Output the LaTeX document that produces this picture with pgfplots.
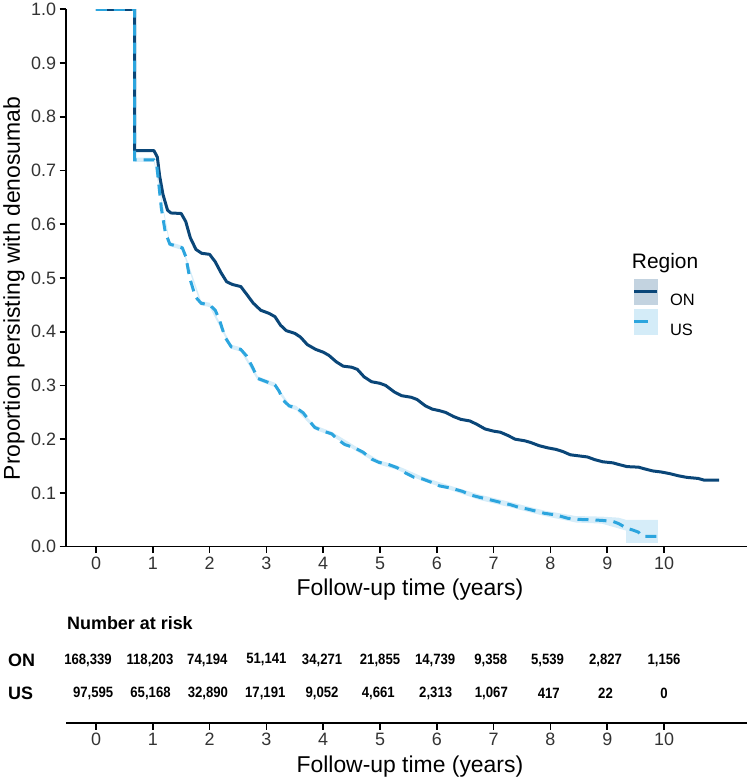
\documentclass[border=0pt]{standalone}
\usepackage{fontspec}
\setmainfont{Liberation Sans}
\newfontface\narrowbold[FakeStretch=0.88]{Liberation Sans Bold}
\usepackage{pgfplots}
\usepackage{pgfplotstable}
\pgfplotsset{compat=1.18}

\definecolor{oncol}{RGB}{10,70,120}
\definecolor{uscol}{RGB}{44,165,222}
\definecolor{usband}{RGB}{214,237,249}
\definecolor{onbox}{RGB}{195,211,224}
\definecolor{usbox}{RGB}{212,236,248}

\pgfplotstableread{
x y lab
-0.14 63.3 168,339
0.95 63.3 118,203
1.96 63.3 74,194
3 63.3 51,141
3.98 63.3 34,271
5 63.3 21,855
5.97 63.3 14,739
6.95 63.3 9,358
7.95 63.3 5,539
8.97 63.3 2,827
10 63.3 1,156
-0.05 29.7 97,595
0.96 29.7 65,168
1.97 29.7 32,890
2.98 29.7 17,191
3.98 29.7 9,052
4.97 29.7 4,661
5.98 29.7 2,313
6.96 29.7 1,067
7.97 29.7 417
8.97 29.7 22
10 29.7 0
}\risktable

\pgfplotsset{
  kmstyle/.style={
    scale only axis,
    width=681bp,
    xmin=-0.528, xmax=11.46,
    xtick={0,1,2,3,4,5,6,7,8,9,10},
    tick align=outside,
    major tick length=6.5bp,
    tick style={line width=1.6bp, black},
    axis line style={line width=1.6bp, black},
    tick label style={font=\fontsize{18}{20}\selectfont, text=black!80},
    /pgf/number format/assume math mode=true,
    label style={font=\fontsize{23}{26}\selectfont, text=black},
  }
}

\begin{document}
\begin{tikzpicture}
\useasboundingbox (0,0) rectangle (748bp,782bp);

\begin{axis}[
  kmstyle,
  at={(66bp,235.3bp)}, anchor=south west,
  height=537.4bp,
  ymin=0, ymax=1,
  axis lines*=left,
  ytick={0,0.1,0.2,0.3,0.4,0.5,0.6,0.7,0.8,0.9,1.0},
  yticklabel style={/pgf/number format/.cd, fixed, fixed zerofill, precision=1},
  xlabel={Follow-up time (years)},
  ylabel={Proportion persisting with denosumab},
  xlabel style={at={(axis description cs:0.505,-0.0806)}, anchor=center},
  ylabel style={at={(axis description cs:-0.0764,0.4805)}, anchor=center},
  legend style={draw=none, fill=none, at={(axis description cs:0.8325,0.4975)},
    anchor=north west, inner sep=0pt, outer sep=0pt, row sep=2.3bp,
    column sep=12bp,
    font=\fontsize{16.5}{18}\selectfont,
    nodes={inner sep=0pt}},
  legend cell align=left,
]
% US confidence band
\addplot[fill=usband, draw=none, forget plot] coordinates {
(0.68,0.724)(1.02,0.724)(1.3,0.567)(1.52,0.56)(1.85,0.457)(2.0,0.454)(2.38,0.376)(2.55,0.371)(2.85,0.317)(3.15,0.305)(3.4,0.266)(3.53,0.262)(3.85,0.226)(4.15,0.214)(4.55,0.188)(4.98,0.161)(5.3,0.151)(5.75,0.13)(6.25,0.113)(6.75,0.097)(7.3,0.083)(7.9,0.067)(8.45,0.057)(8.9,0.056)(9.2,0.054)(9.33,0.05)(9.89,0.05)
(9.89,0.007)(9.33,0.007)(9.33,0.03)(9.2,0.034)(8.9,0.043)(8.45,0.045)(7.9,0.057)(7.3,0.073)(6.75,0.087)(6.25,0.105)(5.75,0.122)(5.3,0.143)(4.98,0.153)(4.55,0.18)(4.15,0.206)(3.85,0.218)(3.53,0.254)(3.4,0.258)(3.15,0.297)(2.85,0.309)(2.55,0.363)(2.38,0.368)(2.0,0.446)(1.85,0.449)(1.52,0.552)(1.3,0.559)(1.02,0.716)(0.68,0.716)
} -- cycle;
% ON
\addplot[oncol, line width=3bp, line join=round, forget plot] coordinates {
(0,1.0)(0.68,1.0)(0.68,0.737)(1.02,0.737)(1.08,0.725)(1.12,0.69)(1.18,0.655)(1.26,0.626)(1.32,0.621)(1.5,0.62)(1.58,0.605)(1.66,0.575)(1.76,0.553)(1.86,0.546)(2.0,0.544)(2.1,0.53)(2.2,0.51)(2.3,0.493)(2.4,0.488)(2.55,0.484)(2.65,0.47)(2.77,0.453)(2.9,0.44)(3.05,0.434)(3.15,0.428)(3.25,0.412)(3.35,0.402)(3.5,0.397)(3.6,0.39)(3.72,0.376)(3.87,0.367)(4.0,0.362)(4.1,0.356)(4.23,0.344)(4.35,0.336)(4.5,0.334)(4.6,0.33)(4.72,0.316)(4.85,0.307)(5.0,0.304)(5.1,0.3)(5.25,0.288)(5.38,0.281)(5.55,0.278)(5.65,0.274)(5.8,0.262)(5.92,0.256)(6.05,0.253)(6.15,0.25)(6.3,0.242)(6.42,0.237)(6.58,0.234)(6.7,0.228)(6.85,0.219)(7.0,0.215)(7.12,0.213)(7.25,0.207)(7.38,0.2)(7.55,0.197)(7.65,0.194)(7.8,0.188)(7.95,0.184)(8.1,0.181)(8.22,0.177)(8.35,0.171)(8.5,0.169)(8.65,0.167)(8.78,0.162)(8.92,0.158)(9.1,0.156)(9.2,0.153)(9.35,0.149)(9.55,0.148)(9.65,0.145)(9.8,0.141)(9.95,0.139)(10.1,0.136)(10.25,0.132)(10.4,0.129)(10.6,0.127)(10.7,0.124)(10.97,0.124)
};
% US
\addplot[uscol, line width=3bp, dash pattern=on 11bp off 7bp, forget plot] coordinates {
(0,1.0)(0.68,1.0)(0.68,0.72)(1.02,0.72)(1.07,0.71)(1.1,0.68)(1.15,0.63)(1.22,0.585)(1.3,0.563)(1.4,0.56)(1.52,0.556)(1.58,0.54)(1.65,0.5)(1.75,0.465)(1.85,0.453)(2.0,0.45)(2.1,0.44)(2.18,0.42)(2.27,0.39)(2.38,0.372)(2.55,0.367)(2.65,0.355)(2.75,0.335)(2.85,0.313)(3.0,0.307)(3.15,0.301)(3.22,0.29)(3.3,0.272)(3.4,0.262)(3.53,0.258)(3.65,0.249)(3.75,0.235)(3.85,0.222)(4.0,0.215)(4.15,0.21)(4.25,0.2)(4.38,0.19)(4.55,0.184)(4.7,0.176)(4.85,0.163)(4.98,0.157)(5.15,0.153)(5.3,0.147)(5.45,0.137)(5.6,0.129)(5.75,0.126)(5.9,0.12)(6.05,0.113)(6.25,0.109)(6.45,0.103)(6.6,0.096)(6.75,0.092)(6.95,0.087)(7.1,0.083)(7.3,0.078)(7.45,0.073)(7.6,0.07)(7.75,0.066)(7.9,0.062)(8.1,0.059)(8.3,0.053)(8.45,0.051)(8.7,0.05)(8.9,0.049)(9.1,0.047)(9.2,0.043)(9.35,0.034)(9.45,0.031)(9.55,0.027)(9.62,0.019)(9.89,0.019)
};
\addlegendimage{legend image code/.code={
  \fill[onbox] (0bp,-3.6bp) rectangle (23.3bp,21bp);
  \draw[oncol, line width=3bp] (0.6bp,8.7bp) -- (22.7bp,8.7bp);}}
\addlegendentry{ON}
\addlegendimage{legend image code/.code={
  \fill[usbox] (0bp,-3.6bp) rectangle (23.3bp,21bp);
  \draw[uscol, line width=3bp] (0.6bp,8.7bp) -- (14bp,8.7bp);}}
\addlegendentry{US}
\node[anchor=west, inner sep=0pt, font=\fontsize{21}{24}\selectfont] at (axis description cs:0.8307,0.528) {Region};
\end{axis}

\begin{axis}[
  kmstyle,
  at={(66bp,58.7bp)}, anchor=south west,
  height=123.3bp,
  ymin=0, ymax=123.3,
  axis x line*=bottom,
  axis y line=none,
  clip=false,
  xlabel={Follow-up time (years)},
  xlabel style={at={(axis description cs:0.505,-0.3544)}, anchor=center},
]
\addplot[only marks, mark=*, mark size=0pt, mark options={draw=none, fill=none},
  nodes near coords, point meta=explicit symbolic,
  every node near coord/.append style={anchor=center, inner sep=0pt,
    font=\fontsize{15}{16}\selectfont\narrowbold, text=black}]
  table[x=x, y=y, meta=lab] {\risktable};
\node[anchor=west, inner sep=0pt, font=\fontsize{18}{20}\selectfont\bfseries] at (axis cs:-0.511,100.6) {Number at risk};
\node[anchor=west, inner sep=0pt, font=\fontsize{18}{20}\selectfont\bfseries] at (axis cs:-1.55,63.3) {ON};
\node[anchor=west, inner sep=0pt, font=\fontsize{18}{20}\selectfont\bfseries] at (axis cs:-1.55,29.7) {US};
\end{axis}
\end{tikzpicture}
\end{document}
